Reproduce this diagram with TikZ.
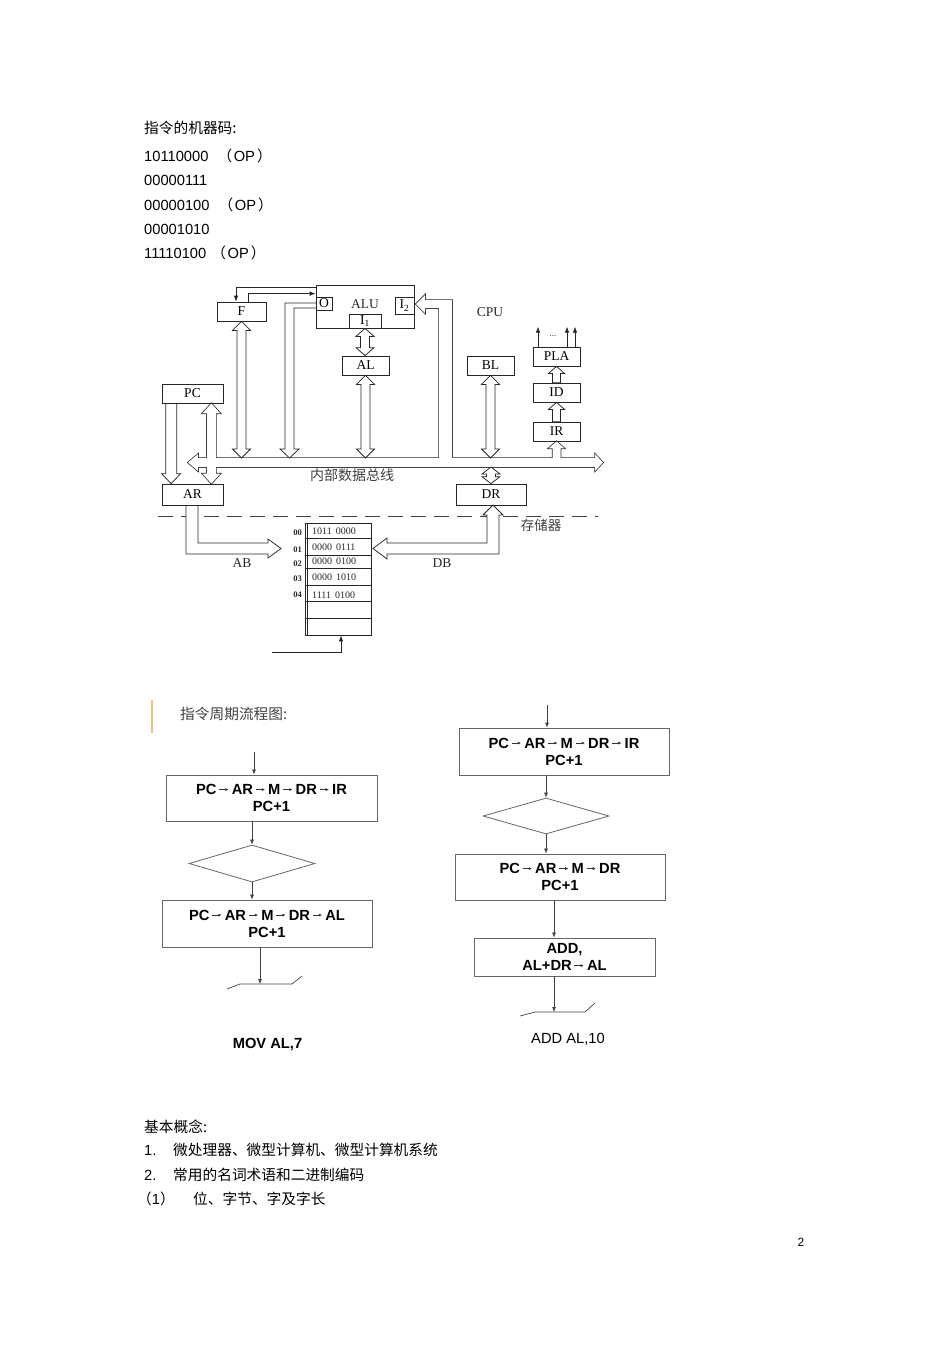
\documentclass[tikz,border=0pt]{standalone}
\usepackage{fontspec}
\setmainfont{Liberation Sans}
\newfontfamily\cjk{Noto Sans CJK SC}
\newfontfamily\tms{Liberation Serif}
\usetikzlibrary{arrows.meta,shapes.geometric,calc}
\pgfdeclarelayer{bg}
\pgfsetlayers{bg,main}
\definecolor{yellowbar}{RGB}{232,196,116}
\newcommand\fa{\kern2.3pt\tikz[baseline=0pt]\draw[black!80,line width=0.55pt,-{Latex[length=3.2pt,width=3pt]}] (0pt,5pt) -- (9.4pt,5pt);\kern3pt}
\newcommand\opx[1]{{\cjk （}\kern#1{}OP\kern2pt{\cjk ）}}
\tikzset{
 hol/.style={draw=black!85,line width=0.75pt,fill=white,line join=miter},
 cbox/.style={draw=black!85,line width=0.75pt,inner sep=0pt,font=\tms\fontsize{13.5}{13.5}\selectfont},
 clbl/.style={inner sep=0pt,text=black!85,font=\tms\fontsize{13.5}{13.5}\selectfont},
 mtxt/.style={inner sep=0pt,anchor=west,text=black!85,font=\tms\fontsize{10}{10}\selectfont},
 madr/.style={inner sep=0pt,anchor=east,text=black!85,font=\tms\bfseries\fontsize{8.5}{8.5}\selectfont},
 fbox/.style={draw=black!60,line width=0.8pt,inner sep=0pt,align=center,font=\bfseries\fontsize{14.7}{17}\selectfont},
 fdia/.style={draw=black!60,line width=0.8pt,diamond,inner sep=0pt,shape aspect=3.4},
 farr/.style={draw=black!75,line width=0.7pt,-{Latex[length=5pt,width=4pt]}},
 tarr/.style={draw=black!85,line width=0.75pt,-{Latex[length=6pt,width=4.5pt]}},
 txt/.style={anchor=base west,inner sep=0pt,font=\fontsize{14.7}{17}\selectfont},
}
% double-headed vertical hollow arrow: top point, bottom point, head length
\newcommand\vdarr[4][hol]{\path[#1] let \p1=(#2), \p2=(#3) in
 (\x1,\y1) -- ++(9pt,-#4pt) -- ++(-4.5pt,0pt) -- (\x1+4.5pt,\y2+#4pt) -- ++(4.5pt,0pt) -- (\x1,\y2)
 -- ++(-9pt,#4pt) -- ++(4.5pt,0pt) -- (\x1-4.5pt,\y1-#4pt) -- ++(-4.5pt,0pt) -- cycle;}
% upward hollow arrow: base point, tip point, head length
\newcommand\uarr[4][hol]{\path[#1] let \p1=(#2), \p2=(#3) in
 (\x2,\y2) -- ++(8pt,-#4pt) -- ++(-4pt,0pt) -- (\x2+4pt,\y1) -- (\x2-4pt,\y1) -- (\x2-4pt,\y2-#4pt) -- ++(-4pt,0pt) -- cycle;}
% downward hollow arrow: base point, tip point, head length
\newcommand\darr[4][hol]{\path[#1] let \p1=(#2), \p2=(#3) in
 (\x2,\y2) -- ++(9.5pt,#4pt) -- ++(-4pt,0pt) -- (\x2+5.5pt,\y1) -- (\x2-5.5pt,\y1) -- (\x2-5.5pt,\y2+#4pt) -- ++(-4pt,0pt) -- cycle;}
\newcommand\busgroup[1]{%
 \path[#1] (198,458) -- (595,458) -- (595,454) -- (603,462.5) -- (595,471) -- (595,467) -- (198,467) -- (198,471) -- (188,462.5) -- (198,454) -- cycle;
 \path[#1] (439,462) -- (439,308) -- (425,308) -- (425,313) -- (416,304) -- (425,295) -- (425,300) -- (452,300) -- (452,462) -- cycle;
 \vdarr[#1]{[xshift=-12pt]PC.south east}{[xshift=-12pt]AR.north east}{10}
 \uarr[#1]{IR.south |- busC}{IR.south}{7}
}
\begin{document}
\begin{tikzpicture}[x=1pt,y=-1pt]
\useasboundingbox (0,0) rectangle (950,1345);

% ---------- top text ----------
\node[txt] (t0) at (144,133) {\cjk 指令的机器码:};
\node[txt] (t1) at (144,161) {10110000 \kern5pt\opx{1.5pt}};
\node[txt] (t2) at (144,185) {00000111};
\node[txt] (t3) at (144,210) {00000100 \kern5pt\opx{1.5pt}};
\node[txt] (t4) at (144,234) {00001010};
\node[txt] (t5) at (144,258) {11110100 \kern1pt\opx{1.5pt}};

% ---------- CPU diagram boxes ----------
\node[cbox,minimum width=98,minimum height=43] (ALU) at (365,306.5) {};
\node[clbl] (alulbl) at (365,304) {ALU};
\node[cbox,minimum width=16,minimum height=13] (O) at (324,303.5) {O};
\node[cbox,minimum width=19,minimum height=17] (I2) at (404.5,305.5) {I\textsubscript{2}};
\node[cbox,minimum width=32,minimum height=14] (I1) at (365,321) {I\textsubscript{1}};
\node[cbox,minimum width=49,minimum height=19] (F) at (241.5,311.5) {F};
\node[cbox,minimum width=47,minimum height=19] (AL) at (365.5,365.5) {AL};
\node[cbox,minimum width=61,minimum height=19] (PC) at (192.5,393.5) {PC};
\node[cbox,minimum width=61,minimum height=21] (AR) at (192.5,494.5) {AR};
\node[cbox,minimum width=47,minimum height=19] (BL) at (490.5,365.5) {BL};
\node[cbox,minimum width=47,minimum height=19] (PLA) at (556.5,356.5) {PLA};
\node[cbox,minimum width=47,minimum height=19] (ID) at (556.5,392.5) {ID};
\node[cbox,minimum width=47,minimum height=19] (IR) at (556.5,431.5) {IR};
\node[cbox,minimum width=70,minimum height=21] (DR) at (491,494.5) {DR};
\node[cbox,minimum width=66,minimum height=112] (MEM) at (338,579) {};
\node[clbl] (cpu) at (490,312) {CPU};
\node[clbl,font=\tms\fontsize{9}{9}\selectfont] (dots) at (553,336) {...};
\node[inner sep=0pt,text=black!75,font=\cjk\fontsize{14}{14}\selectfont] (busl) at (352,475) {内部数据总线};
\node[inner sep=0pt,text=black!75,font=\cjk\fontsize{13.5}{13.5}\selectfont] (meml) at (541,525) {存储器};
\node[clbl] (ab) at (242,563) {AB};
\node[clbl] (db) at (442,563) {DB};
\coordinate (busT) at (0,458);
\coordinate (busB) at (0,467);
\coordinate (busC) at (0,462.5);

% memory contents
\foreach \yy in {538,555,568,585,601,618} \draw[black!85,line width=0.75pt] (305,\yy) -- (371,\yy);
\draw[black!85,line width=0.75pt] (307.5,523) -- (307.5,635);
\node[mtxt] (m0) at (312,531) {1011\hspace{4pt}0000};
\node[mtxt] (m1) at (312,547.5) {0000\hspace{4pt}0111};
\node[mtxt] (m2) at (312,561.5) {0000\hspace{4pt}0100};
\node[mtxt] (m3) at (312,577.5) {0000\hspace{4pt}1010};
\node[mtxt] (m4) at (312,595) {1111\hspace{4pt}0100};
\node[madr] (a0) at (302,533) {00};
\node[madr] (a1) at (302,550) {01};
\node[madr] (a2) at (302,564) {02};
\node[madr] (a3) at (302,579) {03};
\node[madr] (a4) at (302,595) {04};

\begin{pgfonlayer}{bg}
 \draw[black!75,line width=0.9pt,dash pattern=on 15pt off 8pt] (158,516) -- (598,516);
 % merged bus group
 \busgroup{draw=black!85,line width=1.5pt,line join=miter}
 \busgroup{fill=white}
 % other hollow arrows
 \vdarr{F.south}{F.south |- busT}{9}
 \vdarr{I1.south}{AL.north}{8}
 \vdarr{AL.south}{AL.south |- busT}{9}
 \vdarr{BL.south}{BL.south |- busT}{9}
 \vdarr{DR.north |- busB}{DR.north}{7}
 \darr{[xshift=9.5pt]PC.south west}{[xshift=9.5pt]AR.north west}{10}
 \uarr{IR.north}{ID.south}{7}
 \uarr{ID.north}{PLA.south}{7}
 \path[hol] (316,303) -- (285,303) -- (285,449) -- (280,449) -- (289.5,458) -- (299,449) -- (294,449) -- (294,308) -- (316,308);
 \path[hol] (186,505) -- (186,554) -- (268,554) -- (268,558) -- (281,548.5) -- (268,539) -- (268,543) -- (198,543) -- (198,505);
 \path[hol] (487,543) -- (487,515) -- (483,515) -- (493,505) -- (503,515) -- (499,515) -- (499,554) -- (387,554) -- (387,559) -- (373,548.5) -- (387,538) -- (387,543) -- cycle;
 % thin arrows
 \draw[tarr] ([yshift=-3pt]ALU.north west) -| ([xshift=-5.5pt]F.north);
 \draw[tarr] ([xshift=6.5pt]F.north) |- ([yshift=-9pt]ALU.north west);
 \draw[tarr] ([xshift=-18.5pt]PLA.north) -- ++(0,-20);
 \draw[tarr] ([xshift=10.5pt]PLA.north) -- ++(0,-20);
 \draw[tarr] ([xshift=18.5pt]PLA.north) -- ++(0,-20);
 \coordinate (memin) at (272,652);
 \draw[tarr] (memin) -| ([xshift=3pt]MEM.south);
\end{pgfonlayer}

% ---------- flowchart label ----------
\draw[yellowbar,line width=2pt] (152,700) -- (152,733);
\node[txt,text=black!75] (fl) at (180,719) {\cjk 指令周期流程图:};

% ---------- left flowchart ----------
\node[fbox,minimum width=211,minimum height=46] (L1) at (271.5,798) {PC\fa AR\fa M\fa DR\fa IR\\PC+1};
\node[fdia,minimum width=126,minimum height=37] (L2) at (252,863.5) {};
\node[fbox,minimum width=210,minimum height=47] (L3) at (267,923.5) {PC\fa AR\fa M\fa DR\fa AL\\PC+1};
\coordinate (Lin) at (254,752);
\coordinate (Lo) at (260,984);
\draw[farr] (Lin) -- (Lin |- L1.north);
\draw[farr] (L2.north |- L1.south) -- (L2.north);
\draw[farr] (L2.south) -- (L2.south |- L3.north);
\draw[farr] (Lo |- L3.south) -- (Lo);
\draw[black!75,line width=0.7pt] (227,989) -- (240,984) -- (Lo) -- (292,984) -- (302,976);
\node[anchor=base,inner sep=0pt,font=\bfseries\fontsize{14.7}{17}\selectfont] (mov) at (267.5,1048) {MOV AL,7};

% ---------- right flowchart ----------
\node[fbox,minimum width=210,minimum height=47] (R1) at (564,751.5) {PC\fa AR\fa M\fa DR\fa IR\\PC+1};
\node[fdia,minimum width=126,minimum height=36] (R2) at (546,816) {};
\node[fbox,minimum width=210,minimum height=46] (R3) at (560,877) {PC\fa AR\fa M\fa DR\\PC+1};
\node[fbox,minimum width=181,minimum height=38] (R4) at (564.5,957) {ADD,\\AL+DR\fa AL};
\coordinate (Rin) at (547,705);
\coordinate (Ro) at (554,1012);
\draw[farr] (Rin) -- (Rin |- R1.north);
\draw[farr] (R2.north |- R1.south) -- (R2.north);
\draw[farr] (R2.south) -- (R2.south |- R3.north);
\draw[farr] (Ro |- R3.south) -- (Ro |- R4.north);
\draw[farr] (Ro |- R4.south) -- (Ro);
\draw[black!75,line width=0.7pt] (520,1016) -- (535,1012) -- (Ro) -- (585,1012) -- (595,1003);
\node[anchor=base,inner sep=0pt,font=\fontsize{14.7}{17}\selectfont] (add) at (568,1043) {ADD AL,10};

% ---------- bottom text ----------
\node[txt] (b0) at (144,1132) {\cjk 基本概念:};
\node[txt] (b1n) at (144,1155) {1.};
\node[txt] (b1) at (173,1155) {\cjk 微处理器、微型计算机、微型计算机系统};
\node[txt] (b2n) at (144,1180) {2.};
\node[txt] (b2) at (173,1180) {\cjk 常用的名词术语和二进制编码};
\node[txt] (b3n) at (137,1204) {{\cjk （}1{\cjk ）}};
\node[txt] (b3) at (193,1204) {\cjk 位、字节、字及字长};
\node[anchor=base,inner sep=0pt,font=\fontsize{12}{12}\selectfont] (pg) at (801,1246) {2};
\end{tikzpicture}
\end{document}
